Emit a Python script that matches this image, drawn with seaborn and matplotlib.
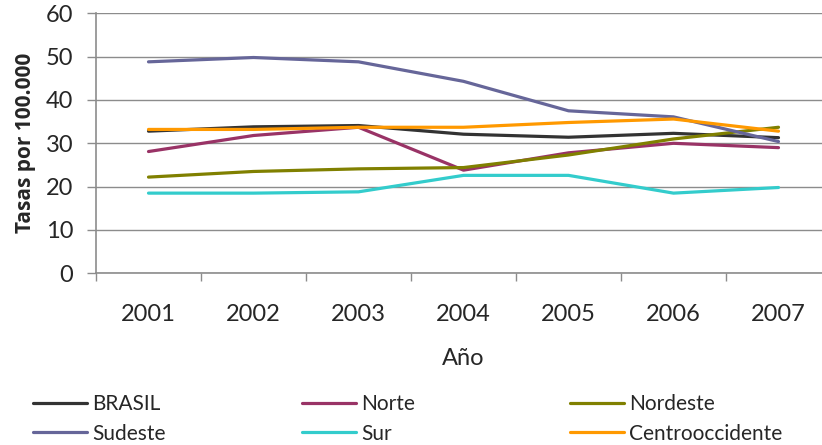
import matplotlib
matplotlib.use("Agg")
import matplotlib.pyplot as plt
import seaborn as sns
import pandas as pd

years = [2001, 2002, 2003, 2004, 2005, 2006, 2007]
brasil = [32.8, 33.8, 34.1, 32.1, 31.4, 32.3, 31.3]
norte = [28.1, 31.8, 33.7, 23.8, 27.8, 30.0, 29.0]
nordeste = [22.2, 23.5, 24.1, 24.4, 27.3, 31.0, 33.7]
sudeste = [48.8, 49.8, 48.8, 44.3, 37.5, 36.1, 30.4]
sur = [18.5, 18.5, 18.8, 22.6, 22.6, 18.5, 19.8]
centro = [33.2, 33.2, 33.7, 33.7, 34.8, 35.6, 32.8]

series_names = ["BRASIL", "Norte", "Nordeste", "Sudeste", "Sur", "Centrooccidente"]
series_values = [brasil, norte, nordeste, sudeste, sur, centro]
colors = ["#333333", "#993366", "#808000", "#666699", "#33CCCC", "#FF9900"]
y_ticks = [0, 10, 20, 30, 40, 50, 60]

df = pd.DataFrame(
    [(y, name, v) for name, vals in zip(series_names, series_values) for y, v in zip(years, vals)],
    columns=["Año", "Región", "Tasa"],
)

sns.set_style("white")
plt.rcParams["font.family"] = ["Lato", "DejaVu Sans"]

fig = plt.figure(figsize=(8.22, 4.45), dpi=100)
ax = fig.add_axes([96 / 822, 1 - 273.3 / 445, 735 / 822, 260 / 445])

sns.lineplot(
    data=df, x="Año", y="Tasa", hue="Región", hue_order=series_names,
    palette=colors, linewidth=2.3, ax=ax, legend=False,
)

ax.set_xlim(2000.5, 2007.5)
ax.set_ylim(0, 60)
ax.set_yticks(y_ticks)
ax.set_xticks(years)
ax.set_xticks([2000.5 + k for k in range(8)], minor=True)
ax.yaxis.grid(True, color="#8c8c8c", linewidth=1.0)
ax.set_axisbelow(True)
for side in ["top", "right"]:
    ax.spines[side].set_visible(False)
for side in ["left", "bottom"]:
    ax.spines[side].set_color("#8c8c8c")
    ax.spines[side].set_linewidth(1.2)

ax.tick_params(axis="y", which="major", length=6.5, color="#8c8c8c", width=1,
               labelsize=17, pad=10, left=True)
ax.tick_params(axis="x", which="major", length=0, labelsize=17, pad=22)
ax.tick_params(axis="x", which="minor", length=5.5, color="#8c8c8c", width=1, bottom=True)

ax.set_xlabel("Año", fontsize=17, labelpad=17)
ax.set_ylabel("Tasas por 100.000", fontsize=15, fontweight="bold",
              family=["Open Sans", "DejaVu Sans"])
ax.yaxis.set_label_coords(-0.082, 0.5)

handles = [plt.Line2D([], [], color=c, linewidth=2.3) for c in colors]
col_x = [38 / 822, 307 / 822, 575 / 822]
for k in range(3):
    idx = [k, k + 3]
    fig.legend(
        [handles[i] for i in idx], [series_names[i] for i in idx],
        loc="upper left", bbox_to_anchor=(col_x[k] - 0.014, 1 - 388 / 445),
        frameon=False, fontsize=15, handlelength=2.6, handletextpad=0.25,
        labelspacing=0.45, borderaxespad=0, borderpad=0.3,
    )

fig.savefig("out.png", dpi=100)
